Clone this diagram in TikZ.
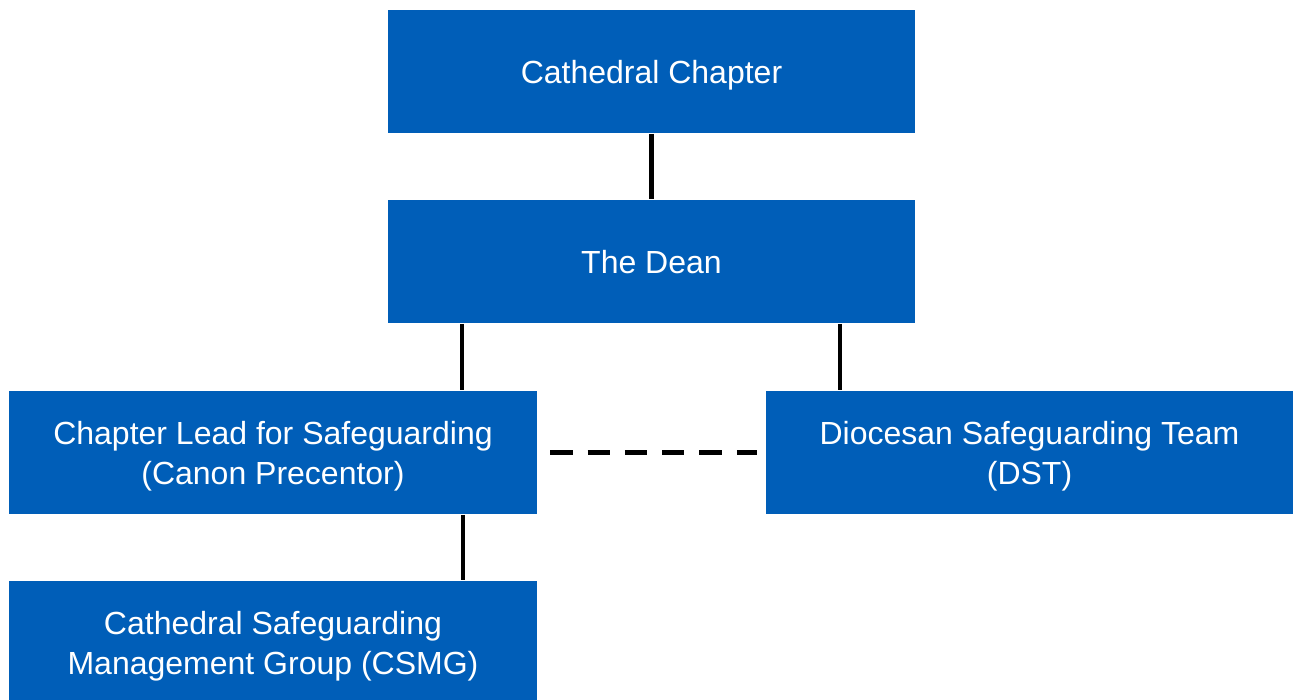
\documentclass[tikz,border=0pt]{standalone}
\usepackage{fontspec}
\setmainfont{Liberation Sans}
\definecolor{SafeBlue}{RGB}{0,94,184}
\newcommand{\boxstrut}{\rule[-2pt]{0pt}{10.6pt}}
\newcommand{\topstrut}{\rule{0pt}{8.9pt}}

\begin{document}
\begin{tikzpicture}[x=0.01cm,y=-0.01cm,
    orgbox/.style={fill=SafeBlue,text=white,minimum width=5.27cm,minimum height=1.23cm,
        align=center,inner sep=0pt,font=\fontsize{9.1}{11.4}\selectfont,
        execute at begin node=\boxstrut,execute at end node=\boxstrut},
    link/.style={line width=1.15pt,black}]
            \useasboundingbox (0,0) rectangle (1294,699);

            \node[orgbox] (chapter) at (651.5, 71.5) {Cathedral Chapter};
            \node[orgbox] (dean) at (651.5, 261.5) {The Dean};
            \node[orgbox] (lead) at (273, 452.5) {\topstrut Chapter Lead for Safeguarding\\(Canon Precentor)};
            \node[orgbox] (dst) at (1029.5, 452.5) {\topstrut Diocesan Safeguarding Team\\(DST)};
            \node[orgbox] (csmg) at (273, 642.5) {\topstrut Cathedral Safeguarding\\Management Group (CSMG)};

            % connectors
            \draw[link] (chapter.south) -- (dean.north);
            \draw[link] ([xshift=-1.895cm]dean.south) -- ([xshift=-1.895cm]dean.south |- lead.north);
            \draw[link] ([xshift=1.885cm]dean.south) -- ([xshift=1.885cm]dean.south |- dst.north);
            \draw[link] ([xshift=1.9cm]lead.south) -- ([xshift=1.9cm]lead.south |- csmg.north);
            \draw[link,dash pattern=on 6.3pt off 4.3pt] ([xshift=0.13cm]lead.east) -- ([xshift=-0.08cm]dst.west);
\end{tikzpicture}
\end{document}
